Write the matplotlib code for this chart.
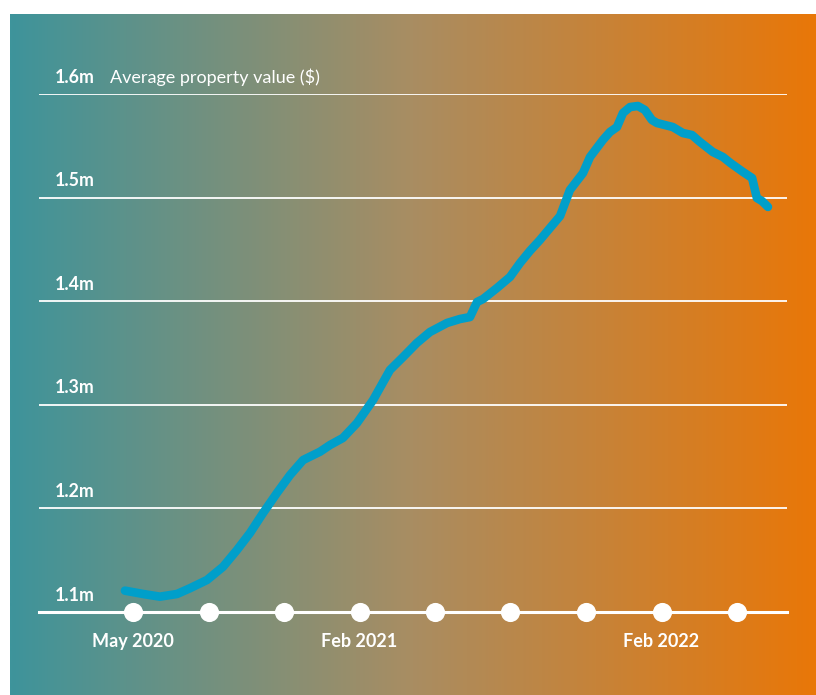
import numpy as np
import matplotlib
matplotlib.use("Agg")
import matplotlib.pyplot as plt
from matplotlib.colors import LinearSegmentedColormap

# ---- data ----
# months since May 2020
months = [-0.32, 0.40, 1.07, 1.75, 2.26, 2.94, 3.58, 4.13, 4.65, 5.17, 5.72, 6.24,
          6.76, 7.43, 7.83, 8.34, 8.90, 9.54, 10.21, 10.73, 11.28, 11.80, 12.48,
          12.99, 13.39, 13.67, 13.91, 14.46, 14.98, 15.38, 15.77, 16.17, 16.57,
          16.97, 17.36, 17.88, 18.16, 18.67, 18.95, 19.23, 19.47, 19.75, 20.06,
          20.34, 20.62, 20.82, 21.45, 21.85, 22.21, 22.53, 23.04, 23.44, 23.74,
          24.24, 24.60, 24.79, 24.99, 25.23]
values_m = [1.1206, 1.1174, 1.1148, 1.1174, 1.1229, 1.1309, 1.1437, 1.1598, 1.1763,
            1.1956, 1.2149, 1.2322, 1.2467, 1.2547, 1.2612, 1.2680, 1.2824, 1.3046,
            1.3336, 1.3461, 1.3597, 1.3703, 1.3790, 1.3828, 1.3847, 1.3992, 1.4021,
            1.4127, 1.4234, 1.4369, 1.4485, 1.4591, 1.4707, 1.4822, 1.5073, 1.5237,
            1.5392, 1.5556, 1.5633, 1.5681, 1.5817, 1.5874, 1.5884, 1.5846, 1.5749,
            1.5720, 1.5681, 1.5623, 1.5604, 1.5537, 1.5440, 1.5392, 1.5334, 1.5247,
            1.5189, 1.4996, 1.4967, 1.4910]
y_ticks = [1.1, 1.2, 1.3, 1.4, 1.5, 1.6]
y_tick_labels = ["1.1m", "1.2m", "1.3m", "1.4m", "1.5m", "1.6m"]
dot_months = [0, 3, 6, 9, 12, 15, 18, 21, 24]
x_label_months = [0, 9, 21]
x_labels = ["May 2020", "Feb 2021", "Feb 2022"]
axis_title = "Average property value ($)"

W, H = 816, 695
fig = plt.figure(figsize=(W / 100, H / 100), dpi=100)
fig.patch.set_facecolor("white")

# gradient panel
bg = fig.add_axes([10 / W, 0, (W - 10) / W, (H - 14) / H])
cmap = LinearSegmentedColormap.from_list(
    "grad", [(0.0, "#3e949b"), (0.5, "#a98d62"), (1.0, "#e97708")])
grad = np.linspace(0, 1, 512).reshape(1, -1)
bg.imshow(grad, aspect="auto", cmap=cmap, extent=[0, 1, 0, 1])
bg.set_axis_off()

# main axes
x0, x1 = 39, 787
y_top, y_bot = 94, 612
ax = fig.add_axes([x0 / W, (H - y_bot) / H, (x1 - x0) / W, (y_bot - y_top) / H])
ax.patch.set_alpha(0)
px_per_month = 75.5 / 3
xmin = (x0 - 133) / px_per_month
xmax = (x1 - 133) / px_per_month
ax.set_xlim(xmin, xmax)
ax.set_ylim(1.1, 1.6)
for s in ax.spines.values():
    s.set_visible(False)
ax.set_xticks([])
ax.set_yticks([])

for yv in y_ticks[1:]:
    ax.axhline(yv, color="white", lw=1.3, zorder=1)
ax.axhline(1.1, color="white", lw=2.2, zorder=1, clip_on=False)

ax.plot(months, values_m, color="#009fca", lw=6.2, solid_capstyle="round",
        solid_joinstyle="round", zorder=3, clip_on=False)

ax.scatter(dot_months, [1.1] * len(dot_months), s=190, color="white",
           zorder=4, clip_on=False, linewidths=0)

label_x = xmin + (55 - x0) / px_per_month
for yv, lab in zip(y_ticks, y_tick_labels):
    ax.annotate(lab, xy=(label_x, yv), xytext=(0, 6), textcoords="offset points",
                ha="left", va="bottom", color="white", fontsize=12.8,
                fontweight="bold", family="Lato")
ax.annotate(axis_title, xy=(xmin + (110 - x0) / px_per_month, 1.6), xytext=(0, 6),
            textcoords="offset points", ha="left", va="bottom", color="white",
            fontsize=13, family="Lato")

for m, lab in zip(x_label_months, x_labels):
    ax.annotate(lab, xy=(m, 1.1), xytext=(0, -15), textcoords="offset points",
                ha="center", va="top", color="white", fontsize=13,
                fontweight="bold", family="Lato")

fig.savefig("out.png", dpi=100, facecolor="white")
